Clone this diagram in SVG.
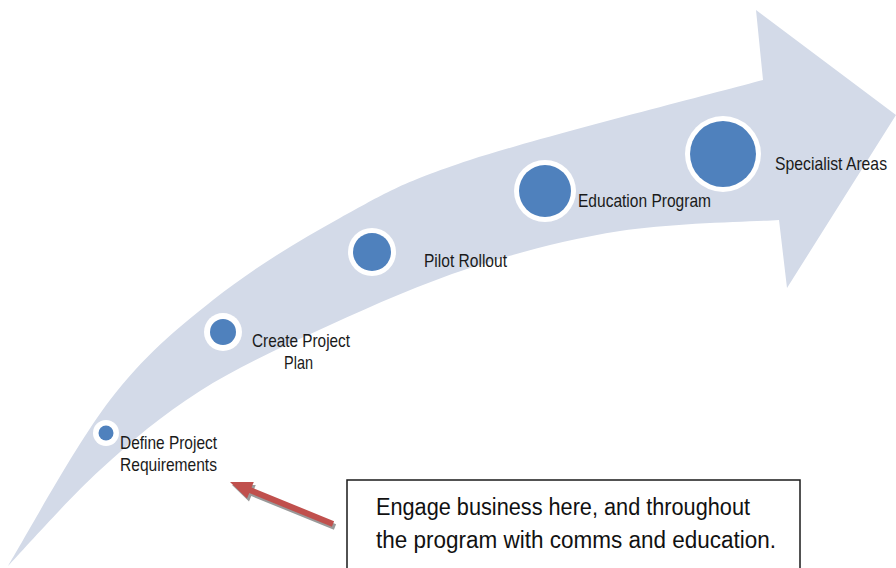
<svg xmlns="http://www.w3.org/2000/svg" width="896" height="568" viewBox="0 0 896 568">
<style>
.band{fill:#D3DAE8;stroke:none}
.ring{fill:#FFFFFF}
.dot{fill:#4F81BD}
.lbl{font-family:"Liberation Sans Narrow","Liberation Sans",sans-serif;font-size:18.5px;fill:#1A1A1A}
.call{font-family:"Liberation Sans Narrow","Liberation Sans",sans-serif;font-size:23px;fill:#111111}
</style>
<rect width="896" height="568" fill="#FFFFFF"/>
<g id="band">
<path class="band" d="M8,566 C25,538 75.8,444.3 110,400 C144.2,355.7 174.7,330.3 213,300 C251.3,269.7 297.2,241.3 340,218 C382.8,194.7 399.5,183 470,160 C540.5,137 714.2,93.3 763,80 L756,10 L896,115 L787,288 L779,220 C752.5,221.8 671.5,223 620,231 C568.5,239 518.3,252.3 470,268 C421.7,283.7 375,304.5 330,325 C285,345.5 238.3,366.8 200,391 C161.7,415.2 132,440.8 100,470 C68,499.2 23.3,550 8,566 Z"/>
</g>
<g id="node1">
<circle class="ring" cx="106" cy="433" r="13"/>
<circle class="dot" cx="106" cy="433" r="7.5"/>
<text class="lbl" x="120" y="449" textLength="97" lengthAdjust="spacingAndGlyphs">Define Project</text>
<text class="lbl" x="120" y="471" textLength="97" lengthAdjust="spacingAndGlyphs">Requirements</text>
</g>
<g id="node2">
<circle class="ring" cx="223" cy="332" r="19"/>
<circle class="dot" cx="223" cy="332" r="13"/>
<text class="lbl" x="252" y="347" textLength="98" lengthAdjust="spacingAndGlyphs">Create Project</text>
<text class="lbl" x="284" y="369" textLength="29" lengthAdjust="spacingAndGlyphs">Plan</text>
</g>
<g id="node3">
<circle class="ring" cx="372" cy="252" r="24"/>
<circle class="dot" cx="372" cy="252" r="19"/>
<text class="lbl" x="424" y="267" textLength="83" lengthAdjust="spacingAndGlyphs">Pilot Rollout</text>
</g>
<g id="node4">
<circle class="ring" cx="545" cy="191" r="31"/>
<circle class="dot" cx="545" cy="191" r="26"/>
<text class="lbl" x="578" y="207" textLength="133" lengthAdjust="spacingAndGlyphs">Education Program</text>
</g>
<g id="node5">
<circle class="ring" cx="723" cy="154" r="38"/>
<circle class="dot" cx="723" cy="154" r="33"/>
<text class="lbl" x="775" y="170" textLength="112" lengthAdjust="spacingAndGlyphs">Specialist Areas</text>
</g>
<g id="callout">
<rect x="347" y="480" width="453" height="100" fill="#FFFFFF" stroke="#1A1A1A" stroke-width="1.5"/>
<text class="call" x="376" y="515" textLength="374" lengthAdjust="spacingAndGlyphs">Engage business here, and throughout</text>
<text class="call" x="376" y="548" textLength="400" lengthAdjust="spacingAndGlyphs">the program with comms and education.</text>
</g>
<g id="connectors">
<polygon fill="#9A9A9A" transform="translate(2,3)" points="230,482 253.8,482 251.5,487.5 334.1,521.2 331.9,526.8 249.3,493.1 247,498.6"/>
<polygon fill="#C0504D" points="230,482 253.8,482 251.5,487.5 334.1,521.2 331.9,526.8 249.3,493.1 247,498.6"/>
</g>
</svg>
